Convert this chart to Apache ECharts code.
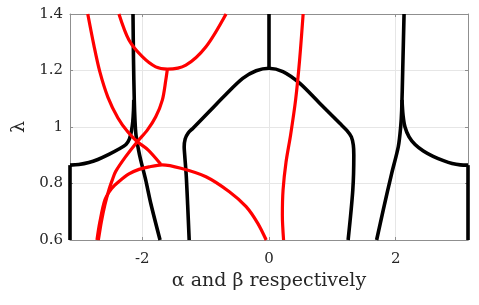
<!DOCTYPE html>
<html>
<head>
<meta charset="utf-8">
<script src="https://cdn.jsdelivr.net/npm/echarts@6/dist/echarts.min.js"></script>
<style>html,body{margin:0;padding:0;background:#fff}#c{width:479px;height:305px}</style>
</head>
<body>
<div id="c"></div>
<script>
var PI = Math.PI;
var xTicks = [-2, 0, 2];
var yTicks = [0.6, 0.8, 1, 1.2, 1.4];

// black curves
var blackLeftEdge = [[-PI, 0.6], [-PI, 0.865]];
var blackLeftBranch = [[-PI, 0.865], [-3.003, 0.867], [-2.845, 0.874], [-2.702, 0.885], [-2.528, 0.903], [-2.369, 0.922], [-2.258, 0.938], [-2.203, 0.958], [-2.171, 0.986], [-2.151, 1.018], [-2.139, 1.06], [-2.135, 1.096]];
var blackLeftVert = [[-2.147, 1.4], [-2.139, 1.237], [-2.127, 1.096], [-2.116, 1.025], [-2.1, 0.972], [-2.06, 0.919], [-2.025, 0.883], [-1.946, 0.812], [-1.867, 0.73], [-1.72, 0.6]];
var blackMid = [[-1.26, 0.6], [-1.284, 0.724], [-1.307, 0.83], [-1.331, 0.901], [-1.339, 0.929], [-1.323, 0.958], [-1.276, 0.979], [-1.204, 0.995], [-0.943, 1.055], [-0.678, 1.116], [-0.415, 1.172], [-0.203, 1.199], [0, 1.208], [0.219, 1.196], [0.483, 1.155], [0.8, 1.084], [1.117, 1.013], [1.228, 0.988], [1.3, 0.965], [1.331, 0.936], [1.339, 0.901], [1.323, 0.777], [1.249, 0.6]];
var blackZero = [[0, 1.208], [0, 1.4]];
var blackRightVert = [[2.132, 1.4], [2.111, 1.202], [2.095, 1.06], [2.079, 1.001], [2.041, 0.93], [1.937, 0.836], [1.803, 0.706], [1.699, 0.6]];
var blackRightBranch = [[2.1, 1.096], [2.116, 1.042], [2.147, 1.0], [2.211, 0.965], [2.306, 0.938], [2.437, 0.915], [2.591, 0.896], [2.754, 0.881], [2.892, 0.871], [3.019, 0.866], [PI, 0.865]];
var blackRightEdge = [[PI, 0.865], [PI, 0.6]];

// red curves
var redA = [[-2.861, 1.4], [-2.765, 1.29], [-2.67, 1.195], [-2.544, 1.106], [-2.385, 1.032], [-2.227, 0.982], [-2.079, 0.948], [-1.91, 0.919], [-1.708, 0.868]];
var redB = [[-2.369, 1.4], [-2.211, 1.308], [-2.0, 1.249], [-1.788, 1.213], [-1.604, 1.205], [-1.312, 1.219], [-0.995, 1.284], [-0.678, 1.4]];
var redC = [[-1.604, 1.205], [-1.629, 1.166], [-1.683, 1.096], [-1.788, 1.036], [-1.921, 0.989], [-2.079, 0.948], [-2.263, 0.895], [-2.422, 0.842], [-2.475, 0.812], [-2.528, 0.777], [-2.591, 0.724], [-2.647, 0.664], [-2.694, 0.6]];
var redArc = [[-2.716, 0.6], [-2.67, 0.664], [-2.59, 0.742], [-2.488, 0.781], [-2.369, 0.807], [-2.211, 0.834], [-2.052, 0.85], [-1.894, 0.859], [-1.688, 0.866], [-1.391, 0.854], [-0.995, 0.824], [-0.626, 0.771], [-0.361, 0.718], [-0.177, 0.659], [-0.044, 0.6]];
var redLine = [[0.539, 1.4], [0.483, 1.237], [0.42, 1.096], [0.341, 0.972], [0.269, 0.876], [0.222, 0.777], [0.211, 0.688], [0.23, 0.6]];

var blackSets = [blackLeftEdge, blackLeftBranch, blackLeftVert, blackMid, blackZero, blackRightVert, blackRightBranch, blackRightEdge];
var redSets = [redA, redB, redC, redArc, redLine];

var FONT = 'DejaVu Serif';
var series = [];
blackSets.forEach(function (d) {
  series.push({type: 'line', data: d, showSymbol: false, smooth: d.length > 2 ? 0.3 : false, clip: false,
    lineStyle: {color: '#000', width: 3.6, cap: 'butt', join: 'round'}, z: 2, silent: true});
});
redSets.forEach(function (d) {
  series.push({type: 'line', data: d, showSymbol: false, smooth: 0.3, clip: false,
    lineStyle: {color: '#ff0000', width: 3.2, cap: 'butt', join: 'round'}, z: 3, silent: true});
});

var axisCol = '#8f8f8f';
var chart = echarts.init(document.getElementById('c'), null, {renderer: 'canvas'});
chart.setOption({
  animation: false,
  grid: {left: 70, right: 11, top: 14, bottom: 65, containLabel: false},
  xAxis: [{
    type: 'value', min: -PI, max: PI, position: 'bottom',
    name: 'α and β respectively', nameLocation: 'middle', nameGap: 30,
    nameTextStyle: {fontFamily: FONT, fontSize: 19, color: '#262626'},
    axisLine: {show: true, onZero: false, lineStyle: {color: axisCol, width: 1}},
    axisTick: {show: true, inside: true, length: 3, customValues: xTicks, lineStyle: {color: axisCol}},
    axisLabel: {customValues: xTicks, fontFamily: FONT, fontSize: 15, color: '#262626', margin: 12},
    splitLine: {show: true, lineStyle: {color: '#e6e6e6', width: 1}}
  }, {
    type: 'value', min: -PI, max: PI, position: 'top',
    axisLine: {show: true, onZero: false, lineStyle: {color: axisCol, width: 1}},
    axisTick: {show: true, inside: true, length: 3, customValues: xTicks, lineStyle: {color: axisCol}},
    axisLabel: {show: false}, splitLine: {show: false}
  }],
  yAxis: [{
    type: 'value', min: 0.6, max: 1.4, interval: 0.2, position: 'left',
    name: 'λ', nameLocation: 'middle', nameGap: 41, nameRotate: 90,
    nameTextStyle: {fontFamily: FONT, fontSize: 19, color: '#262626'},
    axisLine: {show: true, onZero: false, lineStyle: {color: axisCol, width: 1}},
    axisTick: {show: true, inside: true, length: 3, lineStyle: {color: axisCol}},
    axisLabel: {fontFamily: FONT, fontSize: 15, color: '#262626', margin: 7,
      formatter: function (v) { return String(Math.round(v * 10) / 10); }},
    splitLine: {show: true, lineStyle: {color: '#e6e6e6', width: 1}}
  }, {
    type: 'value', min: 0.6, max: 1.4, interval: 0.2, position: 'right',
    axisLine: {show: true, onZero: false, lineStyle: {color: axisCol, width: 1}},
    axisTick: {show: true, inside: true, length: 3, lineStyle: {color: axisCol}},
    axisLabel: {show: false}, splitLine: {show: false}
  }],
  series: series
});
</script>
</body>
</html>
